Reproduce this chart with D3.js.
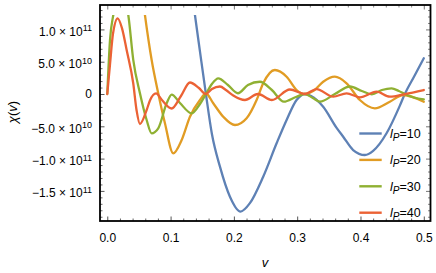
<!DOCTYPE html>
<html><head><meta charset="utf-8">
<script src="https://cdn.jsdelivr.net/npm/d3@7"></script>
<style>
body{margin:0;background:#fff;}
svg{display:block;}
text{font-family:"Liberation Sans",Arial,sans-serif;fill:#000;}
</style></head><body>
<svg id="c" width="436" height="273"></svg>
<script>
// values: [v, chi / 1e10]
const lp10 = [[0.131,18],[0.1385,12.23],[0.1464,6.6],[0.1558,0],[0.1653,-6.2],[0.178,-11.25],[0.1938,-15.9],[0.2105,-18.2],[0.2253,-16.9],[0.2463,-12.8],[0.2675,-7.63],[0.2833,-4.02],[0.299,-0.93],[0.312,0],[0.322,-0.3],[0.3411,-1.97],[0.362,-5.2],[0.3727,-6.61],[0.3884,-8.67],[0.407,-9.44],[0.42,-8.8],[0.4412,-6.08],[0.4622,-1.8],[0.47,0],[0.4843,2.63],[0.5,5.53]];
const lp20 = [[0.052,18],[0.0595,12.23],[0.0701,5.26],[0.0805,0.11],[0.0911,-4.54],[0.1042,-9.18],[0.1175,-7.12],[0.1306,-3.51],[0.1464,-0.93],[0.1558,0.08],[0.1674,-1.44],[0.1832,-3.51],[0.2017,-4.8],[0.2201,-3.76],[0.2359,-0.93],[0.2463,1.66],[0.2648,3.72],[0.2833,2.68],[0.2991,0.62],[0.312,0],[0.3264,0.54],[0.3411,1.9],[0.3595,2.68],[0.378,1.66],[0.399,-0.93],[0.4227,-2.21],[0.4464,-1.19],[0.4674,-0.15],[0.5,-1.19]];
const lp30 = [[0,0],[0.0043,8.36],[0.0095,12.23],[0.0214,16],[0.0332,12.23],[0.0411,5.26],[0.0516,0.11],[0.0622,-4.02],[0.0701,-6.08],[0.0805,-5.31],[0.0938,-1.44],[0.1017,-0.08],[0.1148,-1.39],[0.1333,-2.99],[0.1464,-1.55],[0.1558,0],[0.1653,1.55],[0.1753,2.43],[0.1906,1.39],[0.2064,0.12],[0.2222,1.39],[0.2411,1.9],[0.26,0.62],[0.279,-1.19],[0.298,-0.46],[0.312,0],[0.3247,-0.62],[0.3359,-1.19],[0.3595,0],[0.3832,1.16],[0.4022,0.46],[0.418,-0.05],[0.4338,0.62],[0.4491,0.88],[0.4606,0.46],[0.47,0],[0.4843,-0.54],[0.5,-0.82]];
const lp40 = [[0,0],[0.0043,4.6],[0.009,9.3],[0.0164,11.72],[0.0232,10.2],[0.0306,6.81],[0.041,1.66],[0.0464,-2.6],[0.0516,-4.64],[0.0622,-2.48],[0.0674,-1.0],[0.077,0.1],[0.0864,-0.93],[0.1017,-2.24],[0.1164,-0.31],[0.1306,1.78],[0.1448,0.93],[0.1558,0],[0.1653,0.77],[0.178,1.16],[0.1874,0.62],[0.199,-0.23],[0.2174,-0.93],[0.2379,0],[0.26,-0.93],[0.2884,0.7],[0.312,0],[0.3306,0.77],[0.3569,-0.42],[0.378,0.11],[0.399,-0.51],[0.4254,0.36],[0.4464,-0.42],[0.47,0],[0.5,0.62]];
const seriesData = [lp10, lp20, lp30, lp40];
const seriesLabels = ["10","20","30","40"];
const colors = ["#5E81B5","#E19C24","#8FB032","#EB6235"];

const xMajor = [0,0.1,0.2,0.3,0.4,0.5];
const xTickLabels = ["0.0","0.1","0.2","0.3","0.4","0.5"];
const yMajor = [-1.5e11,-1.0e11,-5e10,0,5e10,1.0e11];
const yMantissa = ["\u22121.5","\u22121.0","\u22125.0","0","5.0","1.0"];
const yExponent = ["11","11","10","","10","11"];
const clipTop = 1.223e11;

const svg = d3.select("#c");
const L = 100, R = 430.5, T = 5, B = 221;
const x = d3.scaleLinear().domain([-0.0115, 0.5106]).range([L, R]);
const y = d3.scaleLinear().domain([-1.966e11, 1.378e11]).range([B, T]);

const xMinor = d3.range(0, 0.5001, 0.02).filter(v => Math.abs(v*10 - Math.round(v*10)) > 1e-6);
const yMinor = d3.range(-19, 13.5, 1).map(v => v*1e10).filter(v => Math.abs(v/5e10 - Math.round(v/5e10)) > 1e-6);

function styleAxis(g, col){
  g.attr("color", col);
  g.select(".domain").remove();
  g.selectAll(".tick line").attr("stroke-width", 1);
}
// minor ticks
svg.append("g").attr("transform",`translate(0,${B})`).call(d3.axisBottom(x).tickValues(xMinor).tickSize(-2.5).tickFormat("")).call(g=>styleAxis(g,"#666"));
svg.append("g").attr("transform",`translate(0,${T})`).call(d3.axisTop(x).tickValues(xMinor).tickSize(-2.5).tickFormat("")).call(g=>styleAxis(g,"#888"));
svg.append("g").attr("transform",`translate(${L},0)`).call(d3.axisLeft(y).tickValues(yMinor).tickSize(-2.5).tickFormat("")).call(g=>styleAxis(g,"#666"));
svg.append("g").attr("transform",`translate(${R},0)`).call(d3.axisRight(y).tickValues(yMinor).tickSize(-2.5).tickFormat("")).call(g=>styleAxis(g,"#888"));
// major ticks
const gx = svg.append("g").attr("transform",`translate(0,${B})`)
  .call(d3.axisBottom(x).tickValues(xMajor).tickSize(-4.5).tickPadding(12.5).tickFormat((d,i)=>xTickLabels[i]))
  .call(g=>styleAxis(g,"#555"));
gx.selectAll("text").attr("fill","#000").attr("font-size","12px").attr("font-family","Liberation Sans, Arial, sans-serif");
svg.append("g").attr("transform",`translate(0,${T})`).call(d3.axisTop(x).tickValues(xMajor).tickSize(-4.5).tickFormat("")).call(g=>styleAxis(g,"#777"));
const gy = svg.append("g").attr("transform",`translate(${L},0)`)
  .call(d3.axisLeft(y).tickValues(yMajor).tickSize(-4.5).tickPadding(8).tickFormat(""))
  .call(g=>styleAxis(g,"#555"));
gy.selectAll(".tick text").each(function(d,i){
  const t = d3.select(this);
  t.attr("fill","#000").attr("font-size","12px").attr("font-family","Liberation Sans, Arial, sans-serif");
  if(!yExponent[i]){ t.text(yMantissa[i]); return; }
  t.attr("dy","0.5em");
  t.append("tspan").text(yMantissa[i] + " \u00d7 10");
  t.append("tspan").attr("dy","-0.5em").attr("font-size","9px").text(yExponent[i]);
});
svg.append("g").attr("transform",`translate(${R},0)`).call(d3.axisRight(y).tickValues(yMajor).tickSize(-4.5).tickFormat("")).call(g=>styleAxis(g,"#777"));

// clip
svg.append("clipPath").attr("id","pc").append("rect")
  .attr("x", L).attr("y", y(clipTop)).attr("width", R-L).attr("height", B - y(clipTop));

const line = d3.line().x(d=>x(d[0])).y(d=>y(d[1]*1e10)).curve(d3.curveMonotoneX);
const gl = svg.append("g").attr("clip-path","url(#pc)");
seriesData.forEach((s,i)=>{
  gl.append("path").datum(s).attr("d", line).attr("fill","none")
    .attr("stroke", colors[i]).attr("stroke-width", 2.3).attr("stroke-linejoin","round").attr("stroke-linecap","round");
});

// frame
svg.append("rect").attr("x",L).attr("y",T).attr("width",R-L).attr("height",B-T)
  .attr("fill","none").attr("stroke","#000").attr("stroke-width",1.8);

// legend
seriesLabels.forEach((lab,i)=>{
  const ly = 133.5 + i*26.4;
  svg.append("line").attr("x1",359.3).attr("x2",381.7).attr("y1",ly).attr("y2",ly)
    .attr("stroke",colors[i]).attr("stroke-width",2.4);
  const t = svg.append("text").attr("x",390).attr("y",ly+4.5).attr("font-size","12.5px");
  t.append("tspan").attr("font-style","italic").text("l");
  t.append("tspan").attr("font-style","italic").attr("font-size","10px").attr("dy",3).text("P");
  t.append("tspan").attr("dy",-3).text("=" + lab);
});

// axis titles
const xt = svg.append("text").attr("x",265).attr("y",267).attr("text-anchor","middle").attr("font-size","13px");
xt.append("tspan").attr("font-style","italic").text("v");
const yt = svg.append("text").attr("transform","translate(17,112) rotate(-90)").attr("text-anchor","middle").attr("font-size","13px");
yt.append("tspan").attr("font-style","italic").text("\u03c7");
yt.append("tspan").text("(");
yt.append("tspan").attr("font-style","italic").text("v");
yt.append("tspan").text(")");
</script>
</body></html>
